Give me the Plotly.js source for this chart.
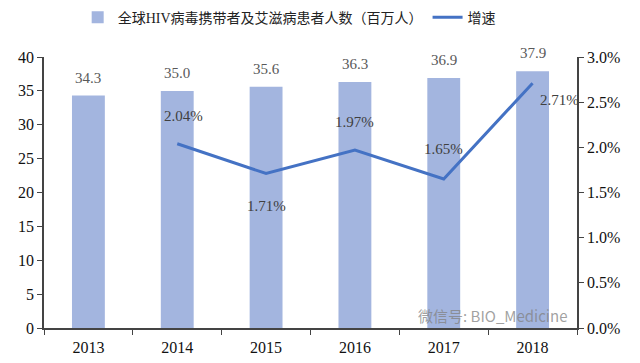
<!DOCTYPE html>
<html><head><meta charset="utf-8">
<script src="https://cdn.plot.ly/plotly-3.0.1.min.js"></script>
<style>html,body{margin:0;padding:0;background:#fff}</style>
</head><body><div id="chart" style="width:640px;height:363px"></div>
<script>
const years = ['2013','2014','2015','2016','2017','2018'];
const patients = [34.3, 35.0, 35.6, 36.3, 36.9, 37.9];
const growthYears = ['2014','2015','2016','2017','2018'];
const growth = [2.04, 1.71, 1.97, 1.65, 2.71];
const barName = '全球HIV病毒携带者及艾滋病患者人数（百万人）';
const lineName = '增速';

const serif = 'Liberation Serif, Times New Roman, Noto Sans CJK SC, serif';
// label offsets (style only)
const lineLabelShift = [[6,28],[0,-32],[0,28],[0,30],[27,-17]];

const data = [
  {type:'bar', x:years, y:patients, name:barName, marker:{color:'#a3b5df'}},
  {type:'scatter', mode:'lines', x:growthYears, y:growth, yaxis:'y2', name:lineName,
   line:{color:'#4472c4', width:3}}
];
const annotations = [];
years.forEach((yr,i)=>annotations.push({x:years.indexOf(yr), y:patients[i], xref:'x', yref:'y',
  text:patients[i].toFixed(1), showarrow:false, yanchor:'bottom', yshift:8,
  font:{family:serif, size:15, color:'#595959'}}));
growthYears.forEach((yr,i)=>annotations.push({x:years.indexOf(yr), y:growth[i], xref:'x', yref:'y2',
  text:growth[i].toFixed(2)+'%', showarrow:false, xshift:lineLabelShift[i][0], yshift:lineLabelShift[i][1],
  font:{family:serif, size:15, color:'#404040'}}));
annotations.push({text:'微信号: BIO_Medicine', xref:'paper', yref:'paper', x:0.985, y:0.045,
    xanchor:'right', yanchor:'middle', showarrow:false,
    font:{family:'Noto Sans CJK SC, sans-serif', size:15, color:'rgba(130,130,130,0.75)'}});

const layout = {
  width:640, height:363,
  margin:{l:44, r:63, t:57, b:35, autoexpand:false},
  paper_bgcolor:'#fff', plot_bgcolor:'#fff',
  bargap:0.63,
  showlegend:true,
  legend:{orientation:'h', x:0.46, xanchor:'center', y:1.145, yanchor:'middle',
    font:{family:'Liberation Serif, Noto Sans CJK SC, serif', size:14, color:'#222'}},
  xaxis:{type:'category', categoryorder:'array', categoryarray:years, range:[-0.5, years.length-0.5],
    showline:true, linecolor:'#444', linewidth:1.5,
    ticks:'outside', tickson:'boundaries', ticklen:5, tickcolor:'#444', ticklabelstandoff:4,
    tickfont:{family:serif, size:16, color:'#111'}, showgrid:false},
  yaxis:{range:[0,40], dtick:5, showline:true, linecolor:'#444', linewidth:1.5,
    ticks:'outside', ticklen:5, tickcolor:'#444', showgrid:false, zeroline:false,
    tickfont:{family:serif, size:16, color:'#111'}},
  yaxis2:{overlaying:'y', side:'right', range:[0,3], dtick:0.5, showline:true,
    linecolor:'#444', linewidth:1.5, ticks:'outside', ticklen:5, tickcolor:'#444',
    showgrid:false, zeroline:false, tickformat:'.1f', ticksuffix:'%',
    tickfont:{family:serif, size:16, color:'#111'}},
  annotations:annotations
};
Plotly.newPlot('chart', data, layout, {displayModeBar:false});
</script></body></html>
